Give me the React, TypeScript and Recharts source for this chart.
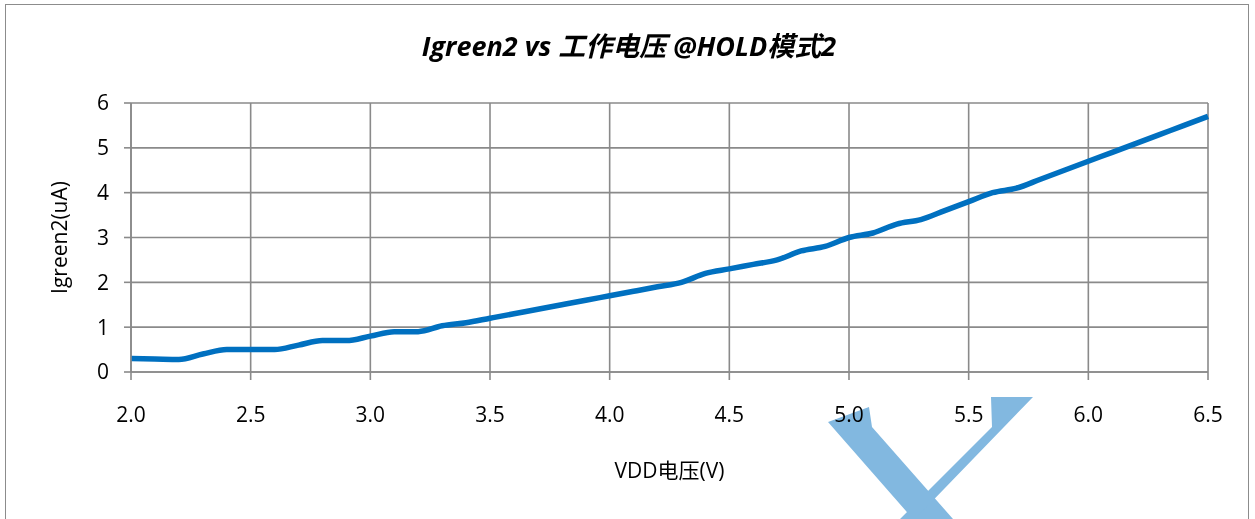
import { LineChart, Line, XAxis, YAxis, CartesianGrid, Label } from "recharts";

// VDD voltage (V) and measured Igreen2 current (uA)
const vdd = [
  2.0, 2.1, 2.2, 2.3, 2.4, 2.5, 2.6, 2.7, 2.8, 2.9,
  3.0, 3.1, 3.2, 3.3, 3.4, 3.5, 3.6, 3.7, 3.8, 3.9,
  4.0, 4.1, 4.2, 4.3, 4.4, 4.5, 4.6, 4.7, 4.8, 4.9,
  5.0, 5.1, 5.2, 5.3, 5.4, 5.5, 5.6, 5.7, 5.8, 5.9,
  6.0, 6.1, 6.2, 6.3, 6.4, 6.5,
];
const igreen2 = [
  0.3, 0.29, 0.28, 0.4, 0.5, 0.5, 0.5, 0.6, 0.7, 0.7,
  0.8, 0.9, 0.9, 1.03, 1.1, 1.2, 1.3, 1.4, 1.5, 1.6,
  1.7, 1.8, 1.9, 2.0, 2.2, 2.3, 2.4, 2.5, 2.7, 2.8,
  3.0, 3.1, 3.3, 3.4, 3.6, 3.8, 4.0, 4.1, 4.3, 4.5,
  4.7, 4.9, 5.1, 5.3, 5.5, 5.7,
];
const xTicks = [2.0, 2.5, 3.0, 3.5, 4.0, 4.5, 5.0, 5.5, 6.0, 6.5];
const yTicks = [0, 1, 2, 3, 4, 5, 6];

const chartData = vdd.map((v, i) => ({ vdd: v, igreen2: igreen2[i] }));

const FONT = '"Open Sans", "Noto Sans CJK SC", sans-serif';
const GRID = "#8a8a8a";

export default function App() {
  return (
    <div style={{ position: "fixed", left: 0, top: 0, width: 1255, height: 519, background: "#fff", fontFamily: FONT }}>
      {/* chart frame */}
      <div style={{ position: "absolute", left: 5, top: 4, width: 1244, height: 530, border: "1.5px solid #8c8c8c", boxSizing: "border-box" }} />
      {/* watermark, sits under the tick labels */}
      <svg width={1255} height={519} style={{ position: "absolute", left: 0, top: 0, pointerEvents: "none" }}>
        <polygon points="828,422 869,407 872,427 953,519 913,519" fill="#82b8e0" />
        <polygon points="991,397 1033,397 915,519 900,519 992,427" fill="#82b8e0" />
      </svg>
      <div style={{ position: "absolute", left: 0, top: 29, width: 1258, textAlign: "center", fontSize: 27, lineHeight: "34px", fontWeight: 700, fontStyle: "italic", color: "#000" }}>
        Igreen2 vs 工作电压 @HOLD模式2
      </div>
      <div style={{ position: "absolute", left: 0, top: 0 }}>
        <LineChart width={1255} height={519} data={chartData} margin={{ top: 103, right: 47, bottom: 77, left: 71 }}>
          <CartesianGrid stroke={GRID} strokeWidth={1.6} horizontal vertical />
          <XAxis
            dataKey="vdd"
            type="number"
            domain={[2, 6.5]}
            ticks={xTicks}
            tickFormatter={(v: number) => v.toFixed(1)}
            stroke={GRID}
            strokeWidth={1.6}
            tickSize={8}
            tickMargin={27}
            height={70}
            tick={{ fill: "#000", fontSize: 21, fontFamily: FONT }}
            interval={0}
          >
            <Label value="VDD电压(V)" position="insideBottom" offset={-36} style={{ fill: "#000", fontSize: 21, fontFamily: FONT }} />
          </XAxis>
          <YAxis
            type="number"
            domain={[0, 6]}
            ticks={yTicks}
            stroke={GRID}
            strokeWidth={1.6}
            tickSize={7}
            tickMargin={15}
            width={60}
            tick={{ fill: "#000", fontSize: 21, fontFamily: FONT }}
            interval={0}
          >
            <Label value="Igreen2(uA)" angle={-90} position="insideLeft" offset={-11} style={{ fill: "#000", fontSize: 21, fontFamily: FONT, textAnchor: "middle" }} />
          </YAxis>
          <Line
            type="monotone"
            dataKey="igreen2"
            stroke="#0070C0"
            strokeWidth={5.5}
            dot={false}
            isAnimationActive={false}
          />
        </LineChart>
      </div>
    </div>
  );
}
